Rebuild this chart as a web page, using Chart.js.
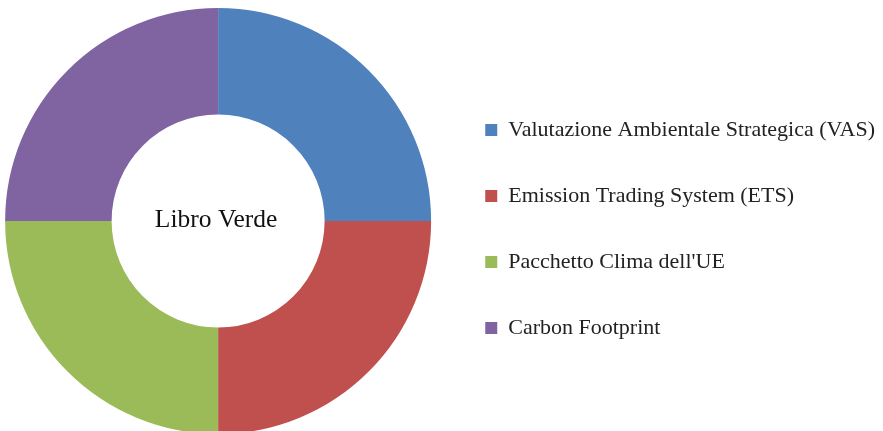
<!DOCTYPE html>
<html><head><meta charset="utf-8">
<script src="https://cdn.jsdelivr.net/npm/chart.js@4/dist/chart.umd.min.js"></script>
<style>
html,body{margin:0;padding:0;background:#fff;overflow:hidden;width:883px;height:431px;position:relative;}
#wrap{position:absolute;left:-5px;top:0;width:890px;height:442px;}
</style></head><body>
<div id="wrap"><canvas id="c" width="890" height="442"></canvas></div>
<script>
const categories = [
  'Valutazione Ambientale Strategica (VAS)',
  'Emission Trading System (ETS)',
  "Pacchetto Clima dell'UE",
  'Carbon Footprint'
];
const values = [25, 25, 25, 25];
const colors = ['#4F81BD', '#C0504D', '#9BBB59', '#8064A2'];
const centerLabel = 'Libro Verde';

const centerText = {
  id: 'centerText',
  afterDatasetsDraw(chart) {
    const meta = chart.getDatasetMeta(0);
    const arc = meta.data[0];
    const ctx = chart.ctx;
    ctx.save();
    ctx.font = '25.5px "Liberation Serif"';
    ctx.fillStyle = '#111';
    ctx.textAlign = 'center';
    ctx.textBaseline = 'alphabetic';
    ctx.fillText(centerLabel, arc.x - 2, arc.y + 6);
    ctx.restore();
  }
};

new Chart(document.getElementById('c'), {
  type: 'doughnut',
  data: {
    labels: categories,
    datasets: [{ data: values, backgroundColor: colors, borderWidth: 0 }]
  },
  options: {
    responsive: false,
    animation: false,
    cutout: '50%',
    layout: { padding: { top: 8, bottom: 8, left: 0, right: 0 } },
    plugins: {
      legend: {
        position: 'right',
        align: 'center',
        title: { display: true, text: '', padding: { top: 6, bottom: 0 }, font: { size: 10, lineHeight: 1 } },
        labels: {
          boxWidth: 12, boxHeight: 12, padding: 44, color: '#222',
          font: { family: '"Liberation Serif"', size: 22 }
        }
      },
      tooltip: { enabled: false }
    }
  },
  plugins: [centerText]
});
</script>
</body></html>
